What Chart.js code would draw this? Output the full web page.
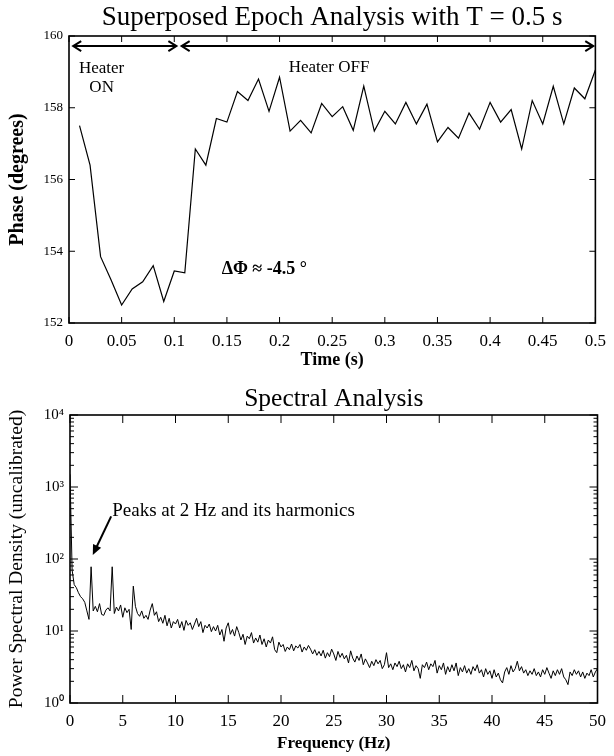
<!DOCTYPE html>
<html>
<head>
<meta charset="utf-8">
<script src="https://cdn.jsdelivr.net/npm/chart.js@4.4.0/dist/chart.umd.min.js"></script>
<style>
  body { margin: 0; background: #fff; }
  #wrap { position: relative; width: 614px; height: 756px; }
  canvas { position: absolute; left: 0; }
</style>
</head>
<body>
<div id="wrap">
  <canvas id="epochChart" width="614" height="372" style="top:0"></canvas>
  <canvas id="spectrumChart" width="614" height="384" style="top:372px"></canvas>
</div>
<script>
const SERIF = "'Liberation Serif', 'Times New Roman', serif";

// --- top panel: superposed epoch analysis ---
const epochTimes = [
  0.01, 0.02, 0.03, 0.04, 0.05, 0.06, 0.07, 0.08, 0.09, 0.10,
  0.11, 0.12, 0.13, 0.14, 0.15, 0.16, 0.17, 0.18, 0.19, 0.20,
  0.21, 0.22, 0.23, 0.24, 0.25, 0.26, 0.27, 0.28, 0.29, 0.30,
  0.31, 0.32, 0.33, 0.34, 0.35, 0.36, 0.37, 0.38, 0.39, 0.40,
  0.41, 0.42, 0.43, 0.44, 0.45, 0.46, 0.47, 0.48, 0.49, 0.50
];
const epochPhase = [
  157.5, 156.4, 153.85, 153.2, 152.5, 152.95, 153.15, 153.6, 152.6, 153.45,
  153.4, 156.85, 156.4, 157.7, 157.6, 158.45, 158.2, 158.8, 157.9, 158.85,
  157.35, 157.65, 157.3, 158.12, 157.75, 158.03, 157.37, 158.6, 157.35, 157.9,
  157.55, 158.15, 157.55, 158.1, 157.05, 157.45, 157.15, 157.85, 157.4, 158.15,
  157.6, 157.95, 156.85, 158.2, 157.55, 158.6, 157.55, 158.55, 158.25, 159.05
];
const timeTicks = [0, 0.05, 0.1, 0.15, 0.2, 0.25, 0.3, 0.35, 0.4, 0.45, 0.5];
const phaseTicks = [152, 154, 156, 158, 160];

// --- bottom panel: power spectral density, one value every 0.2 Hz ---
const freqStep = 0.2;
const psdValues = [
  1500, 70, 44, 40, 34,
  30, 28, 25, 19, 14.5,
  78, 19, 22, 18.5, 24,
  17, 16.5, 19.5, 21, 19,
  78, 17.5, 21.5, 19, 23,
  15.5, 21, 18, 20, 10.5,
  42, 22, 17.5, 16, 19,
  15, 16.5, 14.5, 19.5, 24,
  16.5, 18.5, 13.5, 15.5, 12.8,
  16.5, 11.8, 15, 11, 13.5,
  12.5, 14.5, 11, 13.5, 10.2,
  14, 12, 13, 10.5, 12.5,
  15, 11.5, 13.5, 9.5, 12,
  11, 12.5, 9.8, 11.5, 10,
  12, 8.8, 10.5, 7.2, 11,
  13, 9, 10.5, 8.5, 11.5,
  9.5, 7.5, 9, 6.5, 8.5,
  7.8, 9.5, 6.8, 8, 7,
  8.8, 6.5, 7.8, 6, 7.5,
  6.8, 8.3, 5.5, 5, 7,
  6, 6.5, 5.2, 6, 5.5,
  6.6, 5.3, 6.2, 5.8, 6.5,
  5.1, 6, 5.4, 6.3, 5.6,
  4.8, 5.5, 4.6, 5.2, 4.5,
  5.4, 4.2, 5, 4.4, 5.6,
  4.8, 3.9, 5.2, 4.3, 4.9,
  4.1, 4.6, 3.6, 5.3, 4.2,
  3.7, 4.5, 3.9, 4.8, 3.4,
  4.1, 3.6, 3.1, 3.8, 3.3,
  4, 3.5, 3.9, 3, 3.4,
  5, 3.1, 3.5, 2.9, 3.6,
  3.2, 3.8, 3.0, 3.4, 2.7,
  3.5, 3.1, 3.9, 2.8, 3.3,
  3.0, 2.2, 3.4, 3.1, 3.7,
  2.9, 3.5, 3.2, 3.9, 2.6,
  3.3, 2.9, 3.6, 2.5, 3.2,
  2.7, 3.4, 2.8, 3.6, 2.4,
  3.1, 2.7, 3.3, 2.6, 3.0,
  2.5, 3.2, 2.8, 3.4, 2.6,
  2.9, 2.3, 3.0, 2.5, 2.8,
  2.2, 2.9, 2.3, 2.6, 2.1,
  1.9, 2.7, 3.1, 2.5, 3.3,
  2.7, 3.0, 3.8, 2.8, 3.2,
  2.6, 2.9, 2.4, 2.8, 2.5,
  3.0, 2.4, 2.7, 2.3, 2.9,
  2.5, 3.1, 2.6, 2.2, 2.8,
  2.4, 2.9, 2.5, 3.0, 2.3,
  2.1, 1.8, 2.7, 2.4, 2.9,
  2.5, 2.8, 2.3, 2.7, 2.2,
  2.6, 2.4, 2.9, 2.3, 2.7,
  3.0
];
const freqTicks = [0, 5, 10, 15, 20, 25, 30, 35, 40, 45, 50];
const psdDecades = [1, 10, 100, 1000, 10000];
const SUP = ['⁰', '¹', '²', '³', '⁴'];

// inward tick marks on all four sides + a closed frame
function frameTicks(cfg) {
  return {
    id: 'frameTicks',
    afterDraw(chart) {
      const { ctx, chartArea: a, scales: { x, y } } = chart;
      ctx.save();
      ctx.strokeStyle = '#000';
      ctx.lineWidth = 1;
      ctx.beginPath();
      cfg.xMajor.forEach(v => {
        const px = x.getPixelForValue(v);
        ctx.moveTo(px, a.bottom); ctx.lineTo(px, a.bottom - cfg.major);
        ctx.moveTo(px, a.top); ctx.lineTo(px, a.top + cfg.major);
      });
      cfg.yMajor.forEach(v => {
        const py = y.getPixelForValue(v);
        ctx.moveTo(a.left, py); ctx.lineTo(a.left + cfg.major, py);
        ctx.moveTo(a.right, py); ctx.lineTo(a.right - cfg.major, py);
      });
      (cfg.yMinor || []).forEach(v => {
        const py = y.getPixelForValue(v);
        ctx.moveTo(a.left, py); ctx.lineTo(a.left + cfg.minor, py);
        ctx.moveTo(a.right, py); ctx.lineTo(a.right - cfg.minor, py);
      });
      ctx.stroke();
      ctx.lineWidth = 1.6;
      ctx.strokeRect(a.left, a.top, a.right - a.left, a.bottom - a.top);
      ctx.restore();
    }
  };
}

function chevron(ctx, x, y, dir) {
  ctx.beginPath();
  ctx.moveTo(x - dir * 8, y - 5);
  ctx.lineTo(x, y);
  ctx.lineTo(x - dir * 8, y + 5);
  ctx.stroke();
}

const epochNotes = {
  id: 'epochNotes',
  afterDraw(chart) {
    const { ctx, scales: { x, y } } = chart;
    ctx.save();
    ctx.strokeStyle = '#000';
    ctx.fillStyle = '#000';
    ctx.lineWidth = 2;
    const ay = y.getPixelForValue(159.72);
    const spans = [[0.004, 0.102], [0.107, 0.498]];
    spans.forEach(([s, e]) => {
      const x1 = x.getPixelForValue(s), x2 = x.getPixelForValue(e);
      ctx.beginPath(); ctx.moveTo(x1, ay); ctx.lineTo(x2, ay); ctx.stroke();
      chevron(ctx, x1, ay, -1);
      chevron(ctx, x2, ay, 1);
    });
    ctx.font = '17px ' + SERIF;
    ctx.textAlign = 'center';
    ctx.textBaseline = 'middle';
    ctx.fillText('Heater', x.getPixelForValue(0.031), y.getPixelForValue(159.1));
    ctx.fillText('ON', x.getPixelForValue(0.031), y.getPixelForValue(158.55));
    ctx.fillText('Heater OFF', x.getPixelForValue(0.247), y.getPixelForValue(159.12));
    ctx.font = 'bold 18px ' + SERIF;
    ctx.textAlign = 'left';
    ctx.fillText('ΔΦ ≈ -4.5 °', x.getPixelForValue(0.145), y.getPixelForValue(153.5));
    ctx.restore();
  }
};

const spectrumNotes = {
  id: 'spectrumNotes',
  afterDraw(chart) {
    const { ctx, scales: { x, y } } = chart;
    ctx.save();
    ctx.fillStyle = '#000';
    ctx.strokeStyle = '#000';
    ctx.font = '19px ' + SERIF;
    ctx.textAlign = 'left';
    ctx.textBaseline = 'middle';
    ctx.fillText('Peaks at 2 Hz and its harmonics', x.getPixelForValue(4.0), y.getPixelForValue(470));
    const tx = x.getPixelForValue(3.9), ty = y.getPixelForValue(390);
    const hx = x.getPixelForValue(2.16), hy = y.getPixelForValue(114);
    const ang = Math.atan2(hy - ty, hx - tx);
    ctx.lineWidth = 2;
    ctx.beginPath(); ctx.moveTo(tx, ty); ctx.lineTo(hx - 6 * Math.cos(ang), hy - 6 * Math.sin(ang)); ctx.stroke();
    ctx.beginPath();
    ctx.moveTo(hx, hy);
    ctx.lineTo(hx - 10 * Math.cos(ang) + 4.5 * Math.sin(ang), hy - 10 * Math.sin(ang) - 4.5 * Math.cos(ang));
    ctx.lineTo(hx - 10 * Math.cos(ang) - 4.5 * Math.sin(ang), hy - 10 * Math.sin(ang) + 4.5 * Math.cos(ang));
    ctx.closePath();
    ctx.fill();
    ctx.restore();
  }
};

const psdMinor = [];
psdDecades.slice(0, -1).forEach(d => {
  for (let k = 2; k <= 9; k++) psdMinor.push(d * k);
});

new Chart(document.getElementById('epochChart'), {
  type: 'line',
  data: {
    datasets: [{
      data: epochTimes.map((t, i) => ({ x: t, y: epochPhase[i] })),
      borderColor: '#000',
      borderWidth: 1.2,
      pointRadius: 0,
      tension: 0,
      fill: false
    }]
  },
  options: {
    responsive: false,
    devicePixelRatio: 1,
    animation: false,
    layout: { padding: { left: 0, right: 17, top: 0, bottom: 0 } },
    plugins: {
      legend: { display: false },
      tooltip: { enabled: false },
      title: {
        display: true,
        fullSize: false,
        text: 'Superposed Epoch Analysis with T = 0.5 s',
        color: '#000',
        font: { family: SERIF, size: 27, weight: 'normal' },
        padding: { top: 2, bottom: 1.6 }
      }
    },
    scales: {
      x: {
        type: 'linear', min: 0, max: 0.5,
        afterBuildTicks: s => { s.ticks = timeTicks.map(v => ({ value: v })); },
        afterFit: s => { s.height = 49; },
        grid: { display: false, drawTicks: false },
        border: { display: false },
        ticks: { color: '#000', padding: 8, maxRotation: 0, font: { family: SERIF, size: 17 }, callback: v => String(v) },
        title: { display: true, text: 'Time (s)', color: '#000', padding: { top: 0, bottom: 1 }, font: { family: SERIF, size: 18, weight: 'bold' } }
      },
      y: {
        type: 'linear', min: 152, max: 160,
        afterBuildTicks: s => { s.ticks = phaseTicks.map(v => ({ value: v })); },
        afterFit: s => { s.width = 69; },
        grid: { display: false, drawTicks: false },
        border: { display: false },
        ticks: { color: '#000', padding: 6, font: { family: SERIF, size: 13 } },
        title: { display: true, text: 'Phase (degrees)', color: '#000', padding: { top: 6, bottom: 0 }, font: { family: SERIF, size: 20, weight: 'bold' } }
      }
    }
  },
  plugins: [frameTicks({ xMajor: timeTicks, yMajor: phaseTicks, major: 6 }), epochNotes]
});

new Chart(document.getElementById('spectrumChart'), {
  type: 'line',
  data: {
    datasets: [{
      data: psdValues.map((v, i) => ({ x: i * freqStep, y: v })),
      borderColor: '#000',
      borderWidth: 1,
      pointRadius: 0,
      tension: 0,
      fill: false
    }]
  },
  options: {
    responsive: false,
    devicePixelRatio: 1,
    animation: false,
    layout: { padding: { left: 0, right: 16, top: 0, bottom: 0 } },
    plugins: {
      legend: { display: false },
      tooltip: { enabled: false },
      title: {
        display: true,
        fullSize: false,
        text: 'Spectral Analysis',
        color: '#000',
        font: { family: SERIF, size: 25.5, weight: 'normal' },
        padding: { top: 12, bottom: 0.4 }
      }
    },
    scales: {
      x: {
        type: 'linear', min: 0, max: 50,
        afterBuildTicks: s => { s.ticks = freqTicks.map(v => ({ value: v })); },
        afterFit: s => { s.height = 53; },
        grid: { display: false, drawTicks: false },
        border: { display: false },
        ticks: { color: '#000', padding: 8, maxRotation: 0, font: { family: SERIF, size: 17 } },
        title: { display: true, text: 'Frequency (Hz)', color: '#000', padding: { top: 0, bottom: 2 }, font: { family: SERIF, size: 17, weight: 'bold' } }
      },
      y: {
        type: 'logarithmic', min: 1, max: 10000,
        afterBuildTicks: s => { s.ticks = psdDecades.map(v => ({ value: v })); },
        afterFit: s => { s.width = 70; },
        grid: { display: false, drawTicks: false },
        border: { display: false },
        ticks: { color: '#000', padding: 6, font: { family: SERIF, size: 15 },
          callback: v => '10' + SUP[Math.round(Math.log10(v))] },
        title: { display: true, text: 'Power Spectral Density (uncalibrated)', color: '#000', padding: { top: 5, bottom: 0 }, font: { family: SERIF, size: 19.5, weight: 'normal' } }
      }
    }
  },
  plugins: [frameTicks({ xMajor: freqTicks, yMajor: psdDecades, yMinor: psdMinor, major: 8, minor: 4 }), spectrumNotes]
});
</script>
</body>
</html>
